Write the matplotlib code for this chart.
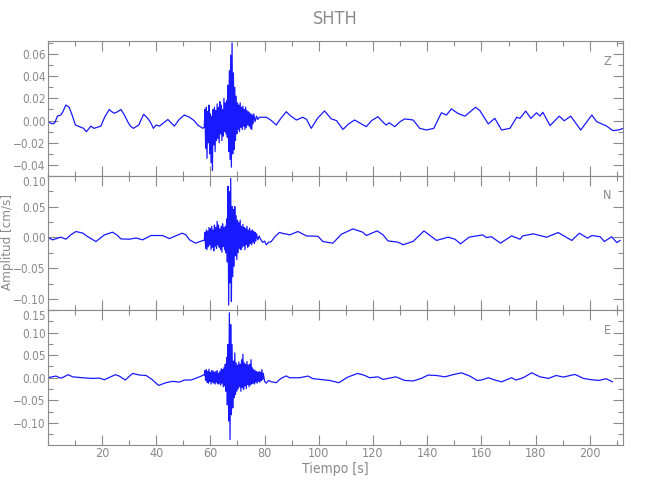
"""
Three-component velocity seismogram for station SHTH (Z / N / E).
Values traced by hand from the reference plot.
"""

import matplotlib
matplotlib.use("Agg")
import matplotlib.pyplot as plt
from matplotlib.ticker import MultipleLocator, FuncFormatter, FixedLocator

GREY = "#8a8a8a"
plt.rcParams["font.family"] = ["DejaVu Sans"]
plt.rcParams["font.stretch"] = "condensed"

STATION = "SHTH"
COMPONENTS = ["Z", "N", "E"]
X_LABEL = "Tiempo [s]"
Y_LABEL = "Amplitud [cm/s]"
X_TICKS = [20, 40, 60, 80, 100, 120, 140, 160, 180, 200]
Y_LIMITS = [(-0.0495, 0.0717), (-0.118, 0.1005), (-0.148, 0.1502)]
Y_MAJOR = [0.02, 0.05, 0.05]
Y_MINOR = [0.01, 0.025, 0.025]
# top labels of the lower panels sit right on the panel seam
Y_EDGE_LABEL = [None, 0.10, 0.15]

# ── Z component ─────────────────────────────────────────────
z_time = [0.0, 1.8, 2.6, 3.6, 4.8, 5.6, 6.7, 7.9, 9.0, 10.2, 11.2, 12.3, 13.2, 14.3,
          15.9, 17.1, 18.3, 19.6, 21.0, 22.7, 23.6, 24.6, 25.8, 27.0, 28.3, 29.5,
          30.5, 31.6, 33.6, 34.5, 35.4, 36.9, 38.0, 39.0, 40.0, 41.2, 42.8, 44.3,
          45.5, 46.7, 48.5, 50.4, 52.3, 54.0, 55.3, 57.2,
          57.75, 58.0, 58.25, 58.5, 58.75, 59.0, 59.25, 59.5, 59.75, 60.0, 60.25,
          60.5, 60.75, 61.0, 61.25, 61.5, 61.75, 62.0, 62.25, 62.5, 62.75, 63.0,
          63.25, 63.5, 63.75, 64.0, 64.25, 64.5, 64.75, 65.0, 65.25, 65.5, 65.75,
          66.0, 66.25, 66.5, 66.75, 67.0, 67.25, 67.5, 67.75, 68.0, 68.25, 68.5,
          68.75, 69.0, 69.25, 69.5, 69.75, 70.0, 70.25, 70.5, 70.75, 71.0, 71.25,
          71.5, 71.75, 72.0, 72.25, 72.5, 72.75, 73.0, 73.25, 73.5, 73.75, 74.0,
          74.25, 74.5, 74.75, 75.0, 75.25, 75.5, 75.75, 76.0, 76.5, 77.0, 77.5, 78.0,
          80.6, 82.0, 84.3, 86.0, 88.0, 89.2, 91.7, 94.1, 95.5, 97.2, 99.5, 102.1,
          104.6, 106.5, 108.9, 111.0, 113.2, 115.0, 117.5, 119.5, 121.8, 123.5,
          124.8, 126.0, 128.0, 130.0, 131.7, 134.8, 137.2, 139.7, 142.4, 145.2,
          147.1, 148.9, 151.4, 153.9, 157.8, 159.4, 162.5, 164.9, 167.4, 170.5,
          173.0, 174.2, 176.3, 178.2, 180.3, 181.6, 182.6, 185.3, 188.7, 190.5,
          192.9, 196.6, 200.7, 202.5, 206.2, 208.4, 210.5, 212.3]
z_amp = [-0.001, -0.003, -0.002, 0.004, 0.005, 0.008, 0.014, 0.012, 0.005, -0.004,
         -0.005, -0.006, -0.007, -0.010, -0.005, -0.007, -0.006, -0.005, 0.003,
         0.010, 0.008, 0.0066, 0.008, 0.010, 0.005, -0.001, -0.005, -0.007, -0.004,
         0.001, 0.0057, 0.002, -0.002, -0.007, -0.004, -0.005, -0.002, 0.001,
         -0.002, -0.005, 0.001, 0.005, 0.003, 0.0, -0.004, -0.007,
         -0.006, 0.010, -0.025, 0.012, -0.034, 0.008, -0.020, 0.014, -0.030, 0.006,
         -0.038, 0.004, -0.045, 0.010, -0.022, 0.012, -0.028, 0.009, -0.018, 0.015,
         -0.016, 0.012, -0.020, 0.017, -0.012, 0.014, -0.018, 0.010, -0.014, 0.020,
         -0.010, 0.016, -0.012, 0.018, -0.015, 0.032, -0.028, 0.045, -0.035, 0.059,
         -0.042, 0.070, -0.030, 0.043, -0.026, 0.030, -0.018, 0.022, -0.012, 0.016,
         -0.008, 0.014, -0.010, 0.016, -0.006, 0.012, -0.008, 0.013, -0.005, 0.010,
         -0.008, 0.012, -0.006, 0.009, -0.004, 0.008, -0.005, 0.007, -0.007, 0.006,
         -0.008, 0.005, -0.003, 0.006, -0.001, 0.004, 0.001, 0.003,
         0.003, 0.001, -0.004, 0.002, 0.008, 0.005, 0.0005, 0.003, 0.001, -0.007,
         0.002, 0.0087, 0.0015, 0.0, -0.008, -0.003, 0.0005, -0.002, -0.0055, 0.0,
         0.0035, -0.001, -0.004, -0.002, -0.0055, -0.001, 0.0015, 0.0005, -0.007,
         -0.0085, -0.007, 0.007, 0.005, 0.0105, 0.0063, 0.004, 0.012, 0.009, -0.003,
         0.002, -0.0085, -0.007, 0.003, 0.002, 0.0086, 0.002, 0.007, 0.004, 0.0075,
         -0.0045, 0.004, -0.0002, 0.004, -0.0085, 0.005, -0.001, -0.005, -0.009,
         -0.0085, -0.007]

# ── N component ─────────────────────────────────────────────
n_time = [0.0, 1.8, 4.9, 6.7, 8.5, 10.4, 12.9, 14.7, 17.8, 20.9, 23.9, 25.5, 27.0,
          30.1, 32.6, 35.0, 38.1, 42.4, 44.9, 47.5, 49.6, 51.0, 52.3, 54.5, 56.0, 57.4,
          57.75, 58.0, 58.25, 58.5, 58.75, 59.0, 59.25, 59.5, 59.75, 60.0, 60.25,
          60.5, 60.75, 61.0, 61.25, 61.5, 61.75, 62.0, 62.25, 62.5, 62.75, 63.0,
          63.25, 63.5, 63.75, 64.0, 64.25, 64.5, 64.75, 65.0, 65.25, 65.5, 65.75,
          66.0, 66.25, 66.5, 66.75, 67.0, 67.25, 67.5, 67.75, 68.0, 68.25, 68.5,
          68.75, 69.0, 69.25, 69.5, 69.75, 70.0, 70.25, 70.5, 70.75, 71.0, 71.25,
          71.5, 71.75, 72.0, 72.25, 72.5, 72.75, 73.0, 73.25, 73.5, 73.75, 74.0,
          74.25, 74.5, 74.75, 75.0, 75.25, 75.5, 75.75, 76.0, 76.25, 76.5, 76.75,
          77.0, 77.5, 78.0,
          78.5, 79.3, 80.0, 80.6, 81.5, 82.4, 84.0, 85.5, 87.0, 88.5, 89.2, 92.3,
          95.4, 99.7, 101.5, 105.2, 108.3, 112.6, 116.2, 117.5, 121.5, 123.7, 125.5,
          129.2, 131.1, 134.8, 138.8, 143.4, 147.7, 150.2, 152.3, 155.4, 160.4,
          161.9, 163.7, 167.0, 171.1, 174.2, 175.2, 179.1, 184.0, 188.3, 193.3,
          196.1, 199.1, 200.7, 203.8, 205.3, 208.0, 209.9, 211.1]
n_amp = [0.0, -0.004, 0.0003, -0.003, 0.004, 0.0095, 0.007, 0.0013, -0.0068, 0.004,
         0.0084, 0.004, -0.0025, -0.003, -0.001, -0.004, 0.003, 0.003, -0.002, 0.003,
         0.0068, 0.004, -0.004, -0.0094, -0.007, -0.005,
         -0.005, 0.008, -0.018, 0.012, -0.020, 0.010, -0.015, 0.016, -0.012, 0.014,
         -0.020, 0.018, -0.016, 0.012, -0.022, 0.020, -0.014, 0.016, -0.018, 0.026,
         -0.012, 0.020, -0.016, 0.014, -0.020, 0.018, -0.024, 0.022, -0.015, 0.016,
         -0.020, 0.018, -0.025, 0.030, -0.040, 0.083, -0.110, 0.074, -0.074, 0.096,
         -0.104, 0.050, -0.064, 0.045, -0.047, 0.050, -0.030, 0.035, -0.036, 0.028,
         -0.025, 0.024, -0.018, 0.028, -0.020, 0.018, -0.016, 0.021, -0.014, 0.016,
         -0.020, 0.014, -0.012, 0.018, -0.016, 0.012, -0.014, 0.015, -0.010, 0.010,
         -0.012, 0.012, -0.008, 0.010, -0.010, 0.008, -0.006, 0.006, -0.004, 0.002,
         -0.003, -0.008, -0.006, -0.012, -0.008, -0.007, 0.002, 0.008, 0.006, 0.005,
         0.004, 0.0095, 0.0024, 0.0017, -0.0068, -0.0094, 0.005, 0.0138, 0.0084,
         0.003, 0.0105, 0.004, -0.0057, -0.0078, -0.012, -0.0065, 0.0105, -0.005,
         0.0003, -0.003, -0.0105, 0.0003, 0.004, -0.0003, 0.001, -0.0094, 0.0024,
         -0.003, 0.0024, 0.0057, 0.0003, 0.0078, -0.005, 0.0068, -0.0013, 0.003,
         0.001, -0.0068, 0.001, -0.0084, -0.005]

# ── E component ─────────────────────────────────────────────
e_time = [0.0, 3.0, 4.9, 7.6, 9.2, 12.9, 16.6, 19.0, 20.9, 24.9, 26.4, 28.6, 31.3,
          33.8, 36.3, 38.5, 40.9, 43.6, 46.1, 48.6, 50.4, 52.9, 56.0, 57.5,
          57.75, 58.0, 58.25, 58.5, 58.75, 59.0, 59.25, 59.5, 59.75, 60.0, 60.25,
          60.5, 60.75, 61.0, 61.25, 61.5, 61.75, 62.0, 62.25, 62.5, 62.75, 63.0,
          63.25, 63.5, 63.75, 64.0, 64.25, 64.5, 64.75, 65.0, 65.25, 65.5, 65.75,
          66.0, 66.25, 66.5, 66.75, 67.0, 67.25, 67.5, 67.75, 68.0, 68.25, 68.5,
          68.75, 69.0, 69.25, 69.5, 69.75, 70.0, 70.25, 70.5, 70.75, 71.0, 71.25,
          71.5, 71.75, 72.0, 72.25, 72.5, 72.75, 73.0, 73.25, 73.5, 73.75, 74.0,
          74.25, 74.5, 74.75, 75.0, 75.25, 75.5, 75.75, 76.0, 76.25, 76.5, 76.75,
          77.0, 77.25, 77.5, 77.75, 78.0, 78.25, 78.5, 78.75, 79.0, 79.25, 79.5,
          80.0, 80.6, 81.5, 82.5, 84.3, 85.5, 86.5, 88.0, 89.2, 92.9, 96.0, 97.8,
          100.3, 104.0, 107.4, 110.7, 114.4, 116.9, 118.7, 121.8, 123.7, 128.4,
          131.7, 134.8, 137.8, 140.3, 143.4, 146.5, 149.6, 152.6, 155.7, 158.4,
          160.0, 162.5, 164.9, 167.4, 171.1, 172.7, 175.4, 178.5, 181.6, 184.7,
          187.5, 190.2, 194.5, 197.6, 200.1, 203.2, 206.0, 208.3]
e_amp = [0.0, 0.0037, -0.001, 0.0067, 0.002, 0.0, -0.0015, -0.0007, -0.0044, 0.0067,
         0.0037, -0.005, 0.0096, 0.006, 0.005, -0.004, -0.017, -0.011, -0.008,
         -0.0096, -0.005, -0.005, 0.002, 0.006,
         0.006, 0.016, -0.006, 0.018, -0.010, 0.014, -0.012, 0.019, -0.008, 0.012,
         -0.014, 0.016, -0.010, 0.015, -0.012, 0.012, -0.014, 0.014, -0.010, 0.016,
         -0.014, 0.010, -0.012, 0.014, -0.016, 0.020, -0.012, 0.018, -0.020, 0.022,
         -0.018, 0.030, -0.030, 0.045, -0.060, 0.074, -0.096, 0.144, -0.137, 0.118,
         -0.082, 0.074, -0.067, 0.037, -0.044, 0.055, -0.037, 0.033, -0.030, 0.028,
         -0.025, 0.035, -0.020, 0.030, -0.030, 0.040, -0.022, 0.052, -0.026, 0.033,
         -0.018, 0.030, -0.024, 0.036, -0.015, 0.028, -0.020, 0.030, -0.016, 0.040,
         -0.014, 0.022, -0.012, 0.018, -0.014, 0.016, -0.010, 0.014, -0.012, 0.012,
         -0.008, 0.014, -0.010, 0.012, -0.006, 0.018, -0.004, 0.010,
         -0.008, -0.012, -0.006, -0.009, -0.011, -0.004, 0.0, 0.004, 0.0, 0.0, 0.0037,
         -0.002, -0.0037, -0.006, -0.011, 0.0015, 0.0096, 0.0052, 0.0, 0.002, -0.0037,
         0.002, -0.006, -0.007, -0.0015, 0.0059, 0.005, 0.002, 0.007, 0.011, 0.0037,
         -0.006, -0.005, 0.0, -0.005, -0.009, 0.0, -0.005, 0.0, 0.011, 0.002,
         -0.0015, 0.005, 0.0015, 0.0074, -0.0015, -0.004, -0.006, -0.0022, -0.009]

TRACES = [(z_time, z_amp), (n_time, n_amp), (e_time, e_amp)]


def fmt_amp(v):
    return f"{v:.2f}".replace("-", "\u2212")


def amp_formatter(edge):
    """Tick formatter that leaves the seam label out (it is placed by hand)."""
    def _fmt(v, _pos):
        if edge is not None and abs(v - edge) < 1e-6:
            return ""
        return fmt_amp(v)
    return FuncFormatter(_fmt)


def main():
    fig = plt.figure(figsize=(6.5, 5.0), dpi=100)
    left, width, height = 0.0734, 0.8855, 0.269
    bottoms = [0.649, 0.380, 0.111]

    axes = []
    for i, (comp, (t, a)) in enumerate(zip(COMPONENTS, TRACES)):
        ax = fig.add_axes([left, bottoms[i], width, height])
        ax.plot(t, a, color="#0000ff", lw=0.9, alpha=0.9)
        ax.set_xlim(0, 212.3)
        ax.set_ylim(*Y_LIMITS[i])

        ax.xaxis.set_major_locator(FixedLocator(X_TICKS))
        ax.xaxis.set_minor_locator(MultipleLocator(10))
        ax.yaxis.set_major_locator(MultipleLocator(Y_MAJOR[i]))
        ax.yaxis.set_minor_locator(MultipleLocator(Y_MINOR[i]))
        ax.yaxis.set_major_formatter(amp_formatter(Y_EDGE_LABEL[i]))

        ax.tick_params(which="both", direction="in", top=True, right=True,
                       colors=GREY, labelcolor=GREY, labelsize=8.5, width=0.8)
        ax.tick_params(which="major", length=7, pad=1.5)
        ax.tick_params(which="minor", length=3.5)
        for sp in ax.spines.values():
            sp.set_color(GREY)
            sp.set_linewidth(0.8)
        if i < 2:
            ax.tick_params(labelbottom=False)

        # seam label, nudged just below the panel top so it clears the one above
        if Y_EDGE_LABEL[i] is not None:
            ax.text(-0.003, Y_EDGE_LABEL[i], fmt_amp(Y_EDGE_LABEL[i]),
                    transform=ax.get_yaxis_transform(), ha="right", va="top",
                    color=GREY, fontsize=8.5)

        ax.text(0.972, 0.85, comp, transform=ax.transAxes, ha="center",
                va="center", color=GREY, fontsize=9)
        axes.append(ax)

    axes[-1].set_xlabel(X_LABEL, color=GREY, fontsize=10, labelpad=2)
    axes[-1].tick_params(axis="x", labelsize=9)
    fig.text(0.011, 0.515, Y_LABEL, rotation=90, ha="center", va="center",
             color=GREY, fontsize=9.5)
    fig.text(0.516, 0.962, STATION, ha="center", va="center", color=GREY,
             fontsize=13)

    fig.savefig("out.png", dpi=100)
    plt.close(fig)


if __name__ == "__main__":
    main()
